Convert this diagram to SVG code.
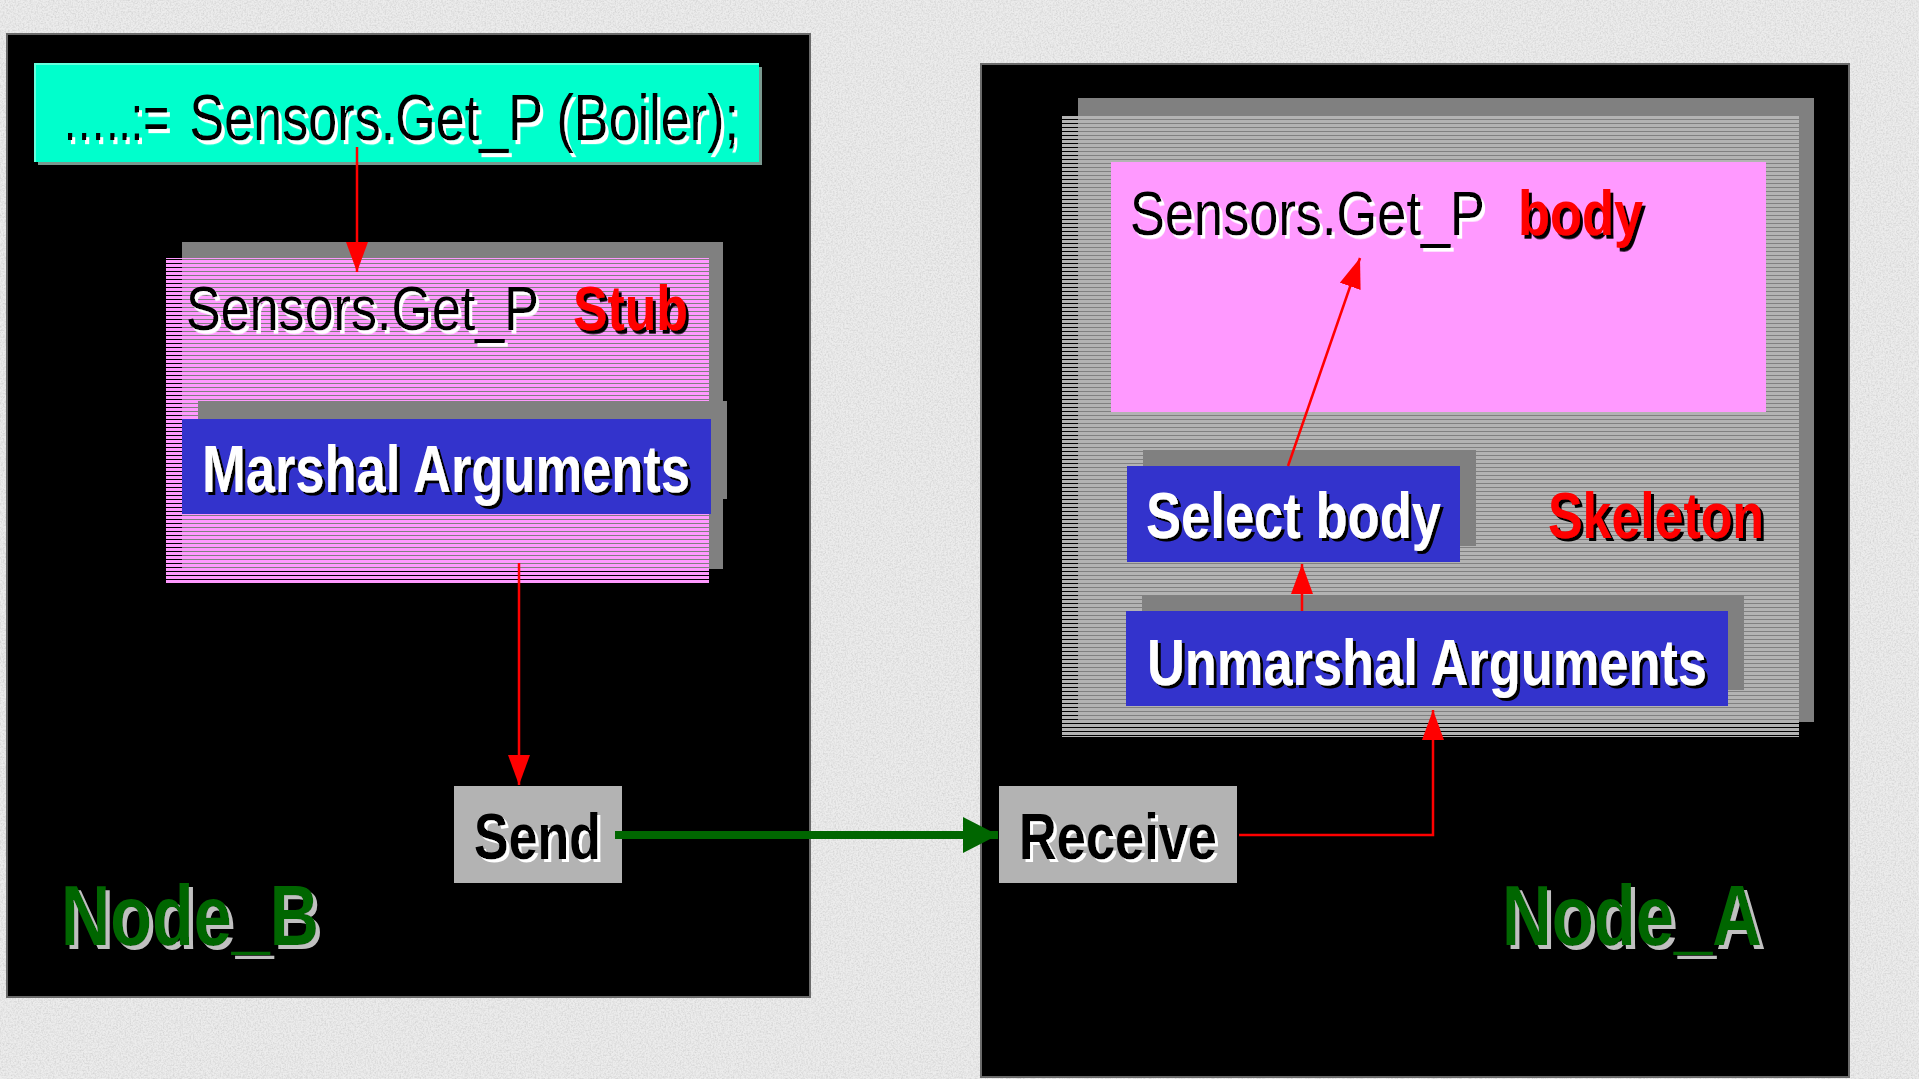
<svg xmlns="http://www.w3.org/2000/svg" width="1919" height="1079" viewBox="0 0 1919 1079">
<style>
.t{font-family:"Liberation Sans Narrow","Liberation Sans",Arial,sans-serif;}
.n{font-weight:normal;}
.b{font-weight:bold;}
.k{fill:#000;filter:url(#shW);}
.w{fill:#fff;filter:url(#shK);}
.r{fill:#ff0000;filter:url(#shK);}
.g{fill:#006600;filter:url(#shG);}
.blue{fill:#3333cc;}
.shadow{fill:#808080;}
.box{fill:#b3b3b3;}
.red{stroke:#ff0000;stroke-width:2.5;fill:none;}
</style>
<defs>
<filter id="shW" x="-1%" y="-4%" width="104%" height="112%"><feDropShadow dx="3" dy="3" stdDeviation="0" flood-color="#fff" flood-opacity="1"/></filter>
<filter id="shK" x="-1%" y="-4%" width="104%" height="112%"><feDropShadow dx="3" dy="3" stdDeviation="0" flood-color="#000" flood-opacity="1"/></filter>
<filter id="shG" x="-1%" y="-4%" width="104%" height="112%"><feDropShadow dx="4" dy="4" stdDeviation="0" flood-color="#c0c0c0" flood-opacity="1"/></filter>
<filter id="noise" x="0" y="0" width="100%" height="100%">
<feTurbulence type="fractalNoise" baseFrequency="0.6" numOctaves="3" seed="4" result="n"/>
<feColorMatrix in="n" type="matrix" values="0 0 0 0 0.62  0 0 0 0 0.62  0 0 0 0 0.62  1.6 0 0 0 -0.6"/>
</filter>
<pattern id="pinkStripe" width="8" height="4" patternUnits="userSpaceOnUse"><rect x="0" y="0" width="8" height="3" fill="#ff99ff"/></pattern>
<pattern id="greyStripe" width="8" height="4" patternUnits="userSpaceOnUse"><rect x="0" y="0" width="8" height="3" fill="#b3b3b3"/></pattern>
<marker id="ar" markerUnits="userSpaceOnUse" viewBox="0 0 30 22" refX="30" refY="11" markerWidth="30" markerHeight="22" orient="auto"><path d="M0,0 L30,11 L0,22 z" fill="#ff0000"/></marker>
<marker id="ag" markerUnits="userSpaceOnUse" viewBox="0 0 35 36" refX="35" refY="18" markerWidth="35" markerHeight="36" orient="auto"><path d="M0,0 L35,18 L0,36 z" fill="#006600"/></marker>
</defs>

<g id="background">
<rect x="0" y="0" width="1919" height="1079" fill="#ececec"/>
<rect x="0" y="0" width="1919" height="1079" filter="url(#noise)"/>
</g>

<g id="node_b_panel">
<rect x="7" y="34" width="803" height="963" fill="#000" stroke="#6a6a6a" stroke-width="2"/>
</g>
<g id="node_a_panel">
<rect x="981" y="64" width="868" height="1013" fill="#000" stroke="#6a6a6a" stroke-width="2"/>
</g>

<g id="call">
<rect x="38" y="67" width="724" height="98" fill="#7a9a90"/>
<rect x="35" y="64" width="724" height="98" fill="#00ffcc"/>
<path d="M35,162 L35,64 L759,64" fill="none" stroke="#66ffdd" stroke-width="2"/>
<text class="t n k" y="140" font-size="46" transform="matrix(1 0 0 1.3913 0 -54.8)"><tspan x="62" textLength="107" lengthAdjust="spacingAndGlyphs">…..:=</tspan><tspan x="175" textLength="564" lengthAdjust="spacingAndGlyphs"> Sensors.Get_P (Boiler);</tspan></text>
</g>

<g id="stub">
<rect class="shadow" x="182" y="242" width="541" height="327"/>
<rect x="166" y="258" width="543" height="326" fill="url(#pinkStripe)"/>
<text class="t n k" x="186" y="330" font-size="51.5" transform="matrix(1 0 0 1.2233 0 -73.7)" textLength="353" lengthAdjust="spacingAndGlyphs">Sensors.Get_P</text>
<text class="t b r" x="573" y="330" font-size="51.5" transform="matrix(1 0 0 1.2233 0 -73.7)" textLength="115" lengthAdjust="spacingAndGlyphs">Stub</text>
</g>

<g id="marshal">
<rect class="shadow" x="198" y="401" width="529" height="98"/>
<rect class="blue" x="182" y="419" width="529" height="95"/>
<text class="t b w" x="202" y="492" font-size="66" textLength="488" lengthAdjust="spacingAndGlyphs">Marshal Arguments</text>
</g>

<g id="send">
<rect class="box" x="454" y="786" width="168" height="97"/>
<text class="t b k" x="474" y="859" font-size="64" textLength="127" lengthAdjust="spacingAndGlyphs">Send</text>
</g>

<g id="receive">
<rect class="box" x="999" y="786" width="238" height="97"/>
<text class="t b k" x="1019" y="859" font-size="64" textLength="198" lengthAdjust="spacingAndGlyphs">Receive</text>
</g>

<g id="skeleton">
<rect class="shadow" x="1078" y="98" width="736" height="624"/>
<rect x="1062" y="115" width="737" height="622" fill="url(#greyStripe)"/>
<text class="t b r" x="1548" y="538" font-size="64" textLength="216" lengthAdjust="spacingAndGlyphs">Skeleton</text>
</g>

<g id="body">
<rect x="1111" y="162" width="655" height="250" fill="#ff99ff"/>
<text class="t n k" x="1130" y="235" font-size="51.5" transform="matrix(1 0 0 1.2233 0 -52.5)" textLength="355" lengthAdjust="spacingAndGlyphs">Sensors.Get_P</text>
<text class="t b r" x="1518" y="235" font-size="51.5" transform="matrix(1 0 0 1.2233 0 -52.5)" textLength="125" lengthAdjust="spacingAndGlyphs">body</text>
</g>

<g id="select_body">
<rect class="shadow" x="1143" y="450" width="333" height="96"/>
<rect class="blue" x="1127" y="466" width="333" height="96"/>
<text class="t b w" x="1146" y="538" font-size="64" textLength="295" lengthAdjust="spacingAndGlyphs">Select body</text>
</g>

<g id="unmarshal">
<rect class="shadow" x="1142" y="595" width="602" height="95"/>
<rect class="blue" x="1126" y="611" width="602" height="95"/>
<text class="t b w" x="1147" y="685" font-size="64" textLength="560" lengthAdjust="spacingAndGlyphs">Unmarshal Arguments</text>
</g>

<g id="label_node_b">
<text class="t b g" x="61" y="945" font-size="86" textLength="258" lengthAdjust="spacingAndGlyphs">Node_B</text>
</g>
<g id="label_node_a">
<text class="t b g" x="1502" y="945" font-size="86" textLength="260" lengthAdjust="spacingAndGlyphs">Node_A</text>
</g>

<g id="connectors">
<line class="red" x1="357" y1="147" x2="357" y2="272" marker-end="url(#ar)"/>
<line class="red" x1="519" y1="563" x2="519" y2="785" marker-end="url(#ar)"/>
<line x1="615" y1="835" x2="998" y2="835" stroke="#006600" stroke-width="8" marker-end="url(#ag)"/>
<polyline class="red" points="1239,835 1433,835 1433,710" marker-end="url(#ar)"/>
<line class="red" x1="1302" y1="611" x2="1302" y2="564" marker-end="url(#ar)"/>
<line class="red" x1="1288" y1="466" x2="1360" y2="258" marker-end="url(#ar)"/>
</g>
</svg>
